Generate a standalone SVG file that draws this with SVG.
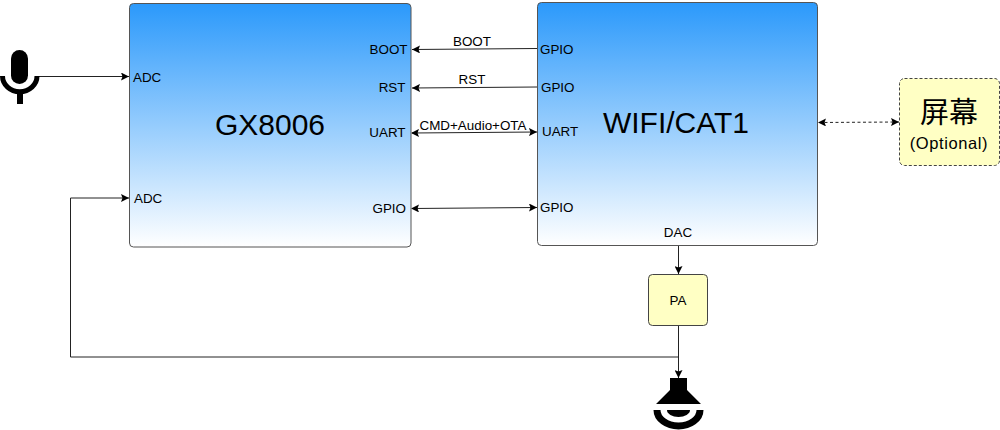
<svg xmlns="http://www.w3.org/2000/svg" width="1000" height="430" viewBox="0 0 1000 430">
<style>
text{font-family:"Liberation Sans",Arial,"Noto Sans CJK SC",sans-serif;fill:#000}
.p{font-size:13.400px}
.m{text-anchor:middle}
.e{text-anchor:end}
.chip{stroke:#555;stroke-width:1}
.big{font-size:30px;text-anchor:middle}
.c{fill:none;stroke:#222;stroke-width:1;marker-end:url(#a)}
.b{marker-start:url(#s)}
.pa{fill:#ffffc4;stroke:#444;stroke-width:1}
</style>
<defs>
<linearGradient id="g" x1="0" y1="0" x2="0" y2="1"><stop offset="0" stop-color="#2b99fb"/><stop offset="1" stop-color="#ffffff"/></linearGradient>
<marker id="a" markerUnits="userSpaceOnUse" markerWidth="9" markerHeight="8" refX="8" refY="4" orient="auto"><path d="M0 0L8 4L0 8L1.500 4Z" fill="#000"/></marker>
<marker id="s" markerUnits="userSpaceOnUse" markerWidth="9" markerHeight="8" refX="1" refY="4" orient="auto"><path d="M8 0L0 4L8 8L6.500 4Z" fill="#000"/></marker>
</defs>
<g id="connectors">
<path class="c" d="M38 76.500L129 76.500"/>
<path class="c" d="M537 48.500L412 49.500"/>
<path class="c" d="M537 87L412 88"/>
<path class="c b" d="M412 133L537 132"/>
<path class="c b" d="M412 208.500L537 207.500"/>
<path class="c b" style="stroke-dasharray:3 2.500" d="M819 122.500L899 122"/>
<path class="c" d="M678.500 245L678.500 274"/>
<path class="c" d="M678.500 325L678.500 378"/>
<path class="c" d="M678.500 357L70.500 357L70.500 198L129 198"/>
</g>
<g id="mic">
<rect x="11" y="50" width="17" height="34" rx="8.500" fill="#000"/>
<path d="M2.500 76A17 15.500 0 0 0 37 76" fill="none" stroke="#000" stroke-width="5"/>
<rect x="17" y="90" width="6" height="14" fill="#000"/>
</g>
<g id="speaker">
<path d="M670 378H687V390L701 404H656L670 390Z" fill="#000"/>
<path d="M667 410H690A11.500 7 0 0 1 667 410Z" fill="#000"/>
<path d="M657 410A21.500 16 0 0 0 700 410" fill="none" stroke="#000" stroke-width="7"/>
</g>
<g id="gx8006">
<rect class="chip" x="129.500" y="3.500" width="281.500" height="243.500" rx="4" fill="url(#g)"/>
<text class="big" x="270" y="135">GX8006</text>
<text class="p" x="133" y="82">ADC</text>
<text class="p" x="134" y="203">ADC</text>
<text class="p e" x="407.500" y="54">BOOT</text>
<text class="p e" x="405.500" y="92">RST</text>
<text class="p e" x="405.500" y="137">UART</text>
<text class="p e" x="406" y="213">GPIO</text>
</g>
<g id="wifi">
<rect class="chip" x="537.500" y="2.500" width="280" height="243" rx="4" fill="url(#g)"/>
<text class="big" x="676" y="133">WIFI/CAT1</text>
<text class="p" x="540" y="54">GPIO</text>
<text class="p" x="541" y="92">GPIO</text>
<text class="p" x="542" y="136">UART</text>
<text class="p" x="540" y="212">GPIO</text>
<text class="p m" x="678" y="237">DAC</text>
</g>
<g id="labels">
<text class="p m" x="472" y="46">BOOT</text>
<text class="p m" x="472" y="84">RST</text>
<text class="p m" x="473" y="130">CMD+Audio+OTA</text>
</g>
<g id="pa">
<rect class="pa" x="648.500" y="274.500" width="59" height="51" rx="4"/>
<text class="p m" x="678" y="305">PA</text>
</g>
<g id="screen">
<rect x="899.500" y="78.500" width="100" height="87" rx="5" fill="#ffffc4" stroke="#444" stroke-dasharray="3 2"/>
<text x="949" y="123" font-size="29" text-anchor="middle">屏幕</text>
<text x="949" y="149" font-size="16.500" letter-spacing="0.600" text-anchor="middle">(Optional)</text>
</g>
</svg>
